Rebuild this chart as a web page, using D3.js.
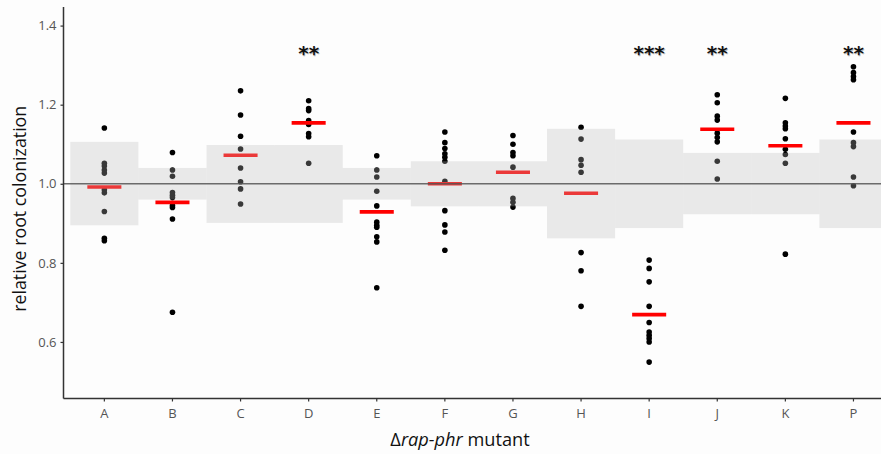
<!DOCTYPE html>
<html>
<head>
<meta charset="utf-8">
<script src="https://cdn.jsdelivr.net/npm/d3@7"></script>
<style>
  body { margin: 0; background: #fdfdfd; }
  svg { display: block; font-family: "Open Sans", "DejaVu Sans", sans-serif; }
</style>
</head>
<body>
<svg id="chart" width="881" height="454"></svg>
<script>
// mutants on the x axis
const mutants = ['A', 'B', 'C', 'D', 'E', 'F', 'G', 'H', 'I', 'J', 'K', 'P'];

// individual replicate values, per mutant
const replicates = [
  [1.141, 1.052, 1.045, 1.035, 1.027, 0.985, 0.977, 0.930, 0.862, 0.856],
  [1.079, 1.035, 1.019, 0.978, 0.971, 0.965, 0.945, 0.940, 0.911, 0.675],
  [1.235, 1.174, 1.120, 1.088, 1.040, 1.005, 0.987, 0.949],
  [1.210, 1.190, 1.185, 1.160, 1.150, 1.127, 1.119, 1.052],
  [1.071, 1.035, 1.017, 0.981, 0.944, 0.903, 0.895, 0.890, 0.866, 0.853, 0.737],
  [1.131, 1.104, 1.089, 1.076, 1.067, 1.057, 1.006, 0.932, 0.896, 0.878, 0.832],
  [1.122, 1.100, 1.079, 1.071, 1.042, 0.963, 0.953, 0.941],
  [1.143, 1.113, 1.061, 1.047, 1.029, 0.826, 0.780, 0.690],
  [0.807, 0.786, 0.752, 0.690, 0.649, 0.625, 0.617, 0.609, 0.600, 0.549],
  [1.225, 1.205, 1.171, 1.161, 1.128, 1.117, 1.106, 1.057, 1.012],
  [1.216, 1.154, 1.146, 1.139, 1.114, 1.087, 1.074, 1.052, 0.822],
  [1.296, 1.281, 1.271, 1.263, 1.131, 1.104, 1.094, 1.017, 0.995]
];

// red bars (group means)
const means = [0.992, 0.953, 1.072, 1.154, 0.929, 1.000, 1.029, 0.976, 0.669, 1.138, 1.096, 1.154];

// grey null band (upper / lower limits)
const bandHigh = [1.106, 1.040, 1.098, 1.098, 1.040, 1.057, 1.057, 1.139, 1.112, 1.078, 1.078, 1.112];
const bandLow  = [0.895, 0.960, 0.901, 0.901, 0.960, 0.943, 0.943, 0.862, 0.888, 0.923, 0.923, 0.888];

// significance marks
const stars = ['', '', '', '**', '', '', '', '', '***', '**', '', '**'];
const starLevel = 1.341;

const yTicks = [0.6, 0.8, 1.0, 1.2, 1.4];

const margin = { left: 63.5, top: 7, bottom: 55.5 };
const W = 881, H = 454;

const svg = d3.select('#chart');

const x = d3.scaleBand()
  .domain(mutants)
  .range([margin.left, margin.left + 68.1 * 12.2])
  .paddingInner(0)
  .paddingOuter(0.1);

const y = d3.scaleLinear()
  .domain([0.457, 1.447])
  .range([H - margin.bottom, margin.top]);

const cx = m => x(m) + x.bandwidth() / 2;

// points
const pts = [];
mutants.forEach((m, i) => replicates[i].forEach(v => pts.push({ m: m, v: v })));

svg.append('g')
  .selectAll('circle')
  .data(pts)
  .enter()
  .append('circle')
  .attr('cx', d => cx(d.m))
  .attr('cy', d => y(d.v))
  .attr('r', 2.8)
  .attr('fill', '#000');

// mean bars
svg.append('g')
  .selectAll('line')
  .data(mutants)
  .enter()
  .append('line')
  .attr('x1', m => cx(m) - x.bandwidth() * 0.25)
  .attr('x2', m => cx(m) + x.bandwidth() * 0.25)
  .attr('y1', (m, i) => y(means[i]))
  .attr('y2', (m, i) => y(means[i]))
  .attr('stroke', '#ff0000')
  .attr('stroke-width', 3.6);

// translucent grey band drawn on top, like the original
svg.append('g')
  .selectAll('rect')
  .data(mutants)
  .enter()
  .append('rect')
  .attr('x', m => x(m))
  .attr('width', x.bandwidth())
  .attr('y', (m, i) => y(bandHigh[i]))
  .attr('height', (m, i) => y(bandLow[i]) - y(bandHigh[i]))
  .attr('fill', 'rgb(190,190,190)')
  .attr('fill-opacity', 0.3);

// reference line at 1
svg.append('line')
  .attr('x1', margin.left)
  .attr('x2', W)
  .attr('y1', y(1))
  .attr('y2', y(1))
  .attr('stroke', '#555')
  .attr('stroke-opacity', 0.85)
  .attr('stroke-width', 1.4);

// stars (with a faint shadow, as in the source image)
[['#bbb', 0.8], ['#111', 0]].forEach(([col, off]) => {
  svg.append('g')
    .selectAll('text')
    .data(mutants)
    .enter()
    .append('text')
    .attr('x', m => cx(m) + off)
    .attr('y', y(starLevel) + 11 + off)
    .attr('text-anchor', 'middle')
    .attr('font-size', 20)
    .attr('font-weight', 'bold')
    .attr('font-family', 'DejaVu Sans, sans-serif')
    .attr('fill', col)
    .text((m, i) => stars[i]);
});

// axes
const yAxis = svg.append('g')
  .attr('transform', `translate(${margin.left},0)`)
  .call(d3.axisLeft(y).tickValues(yTicks).tickFormat(d3.format('.1f')).tickSize(3).tickPadding(4));

const xAxis = svg.append('g')
  .attr('transform', `translate(0,${H - margin.bottom})`)
  .call(d3.axisBottom(x).tickSize(3).tickPadding(7));

[yAxis, xAxis].forEach(a => {
  a.select('.domain').attr('stroke', '#333').attr('stroke-width', 1.5);
  a.selectAll('.tick line').attr('stroke', '#333').attr('stroke-width', 1.2);
  a.selectAll('.tick text')
    .attr('fill', '#555')
    .attr('font-size', 13)
    .attr('font-family', '"Open Sans", sans-serif');
});
yAxis.select('.domain').attr('d', `M0,${H - margin.bottom}V${margin.top}`);
xAxis.select('.domain').attr('d', `M${margin.left},0H${W}`);

// axis titles
svg.append('text')
  .attr('transform', `translate(26,${y(1.0) + 25}) rotate(-90)`)
  .attr('text-anchor', 'middle')
  .attr('font-size', 17.8)
  .attr('fill', '#111')
  .text('relative root colonization');

const xt = svg.append('text')
  .attr('x', 460)
  .attr('y', 446)
  .attr('text-anchor', 'middle')
  .attr('font-size', 18.2)
  .attr('fill', '#111');
xt.append('tspan').text('Δ');
xt.append('tspan').text('rap-phr').attr('font-style', 'italic');
xt.append('tspan').text(' mutant');
</script>
</body>
</html>
